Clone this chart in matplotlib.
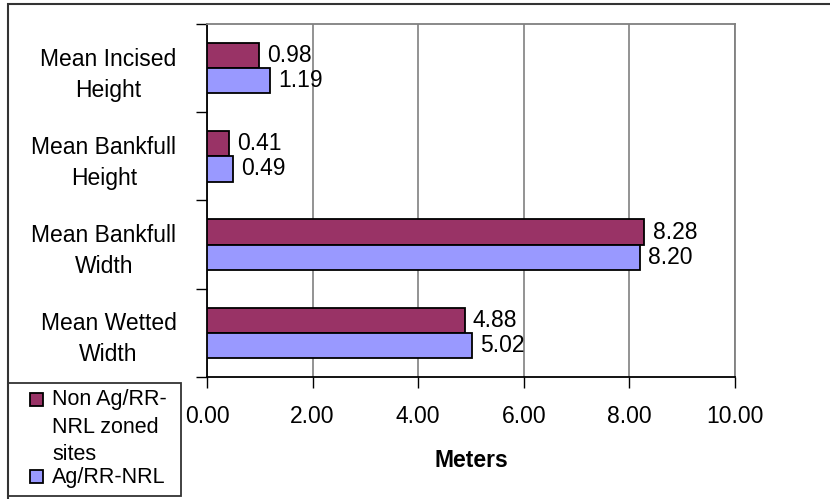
import matplotlib
matplotlib.use("Agg")
import matplotlib.pyplot as plt
from matplotlib.patches import Rectangle
import numpy as np

plt.rcParams['font.family'] = ['Liberation Sans', 'DejaVu Sans']

categories = ["Mean Incised\nHeight", "Mean Bankfull\nHeight",
              "Mean Bankfull\nWidth", "Mean Wetted\nWidth"]
non_ag = [0.98, 0.41, 8.28, 4.88]
ag_rr = [1.19, 0.49, 8.20, 5.02]
series_names = ["Non Ag/RR-\nNRL zoned\nsites", "Ag/RR-NRL"]
x_ticks = [0, 2, 4, 6, 8, 10]

c_non = "#993366"
c_ag = "#9999FF"
grid_c = "#808080"
fs = 16.5

W, H = 830, 499
fig = plt.figure(figsize=(W / 100, H / 100), dpi=100)
ax = fig.add_axes([207 / W, 1 - 377 / H, (735 - 207) / W, (377 - 24) / H])

n = len(categories)
y = np.arange(n)
bh = 0.285
b1 = ax.barh(y - bh / 2, non_ag, height=bh, color=c_non, edgecolor="black", linewidth=1.3, zorder=3)
b2 = ax.barh(y + bh / 2, ag_rr, height=bh, color=c_ag, edgecolor="black", linewidth=1.3, zorder=3)
ax.bar_label(b1, fmt="%.2f", padding=6, fontsize=fs)
ax.bar_label(b2, fmt="%.2f", padding=6, fontsize=fs)

ax.set_ylim(n - 0.5, -0.5)
ax.set_xlim(0, 10)
ax.set_xticks(x_ticks)
ax.set_xticklabels([f"{v:.2f}" for v in x_ticks], fontsize=fs)
ax.tick_params(axis="x", direction="out", length=8, width=1, pad=12, colors="black")

ax.set_yticks(y)
ax.set_yticklabels(categories, fontsize=fs, ha="right", multialignment="center",
                   linespacing=1.45)
ax.tick_params(axis="y", which="major", length=0, pad=22)
ax.set_yticks(np.arange(n + 1) - 0.5, minor=True)
ax.tick_params(axis="y", which="minor", direction="out", length=8, width=1)

ax.xaxis.grid(True, color=grid_c, linewidth=1.2, zorder=0)
ax.set_axisbelow(True)
ax.spines["left"].set_color("black")
ax.spines["bottom"].set_color("black")
ax.spines["top"].set_color(grid_c)
ax.spines["right"].set_color(grid_c)
for s in ax.spines.values():
    s.set_linewidth(1.3)

ax.set_xlabel("Meters", fontsize=fs, fontweight="bold", labelpad=15)

# outer frame of the chart
fig.patches.append(Rectangle((8 / W, -0.01), 1.0, 1 - 4 / H + 0.01,
                             transform=fig.transFigure, fill=False,
                             edgecolor="#333333", linewidth=1.5))

# legend box with series keys
fig.patches.append(Rectangle((8 / W, 1 - 496 / H), (181 - 8) / W, (496 - 383) / H,
                             transform=fig.transFigure, fill=False,
                             edgecolor="#333333", linewidth=1.3))
key_y = [399.5, 476]
text_top = [389, 467]
for col, name, ky, ty in zip([c_non, c_ag], series_names, key_y, text_top):
    fig.patches.append(Rectangle((30 / W, 1 - (ky + 6.5) / H), 13 / W, 13 / H,
                                 transform=fig.transFigure, facecolor=col,
                                 edgecolor="black", linewidth=1.3))
    fig.text(52 / W, 1 - ty / H, name, fontsize=15.5, ha="left", va="top",
             linespacing=1.42)

fig.savefig("out.png", dpi=100)
